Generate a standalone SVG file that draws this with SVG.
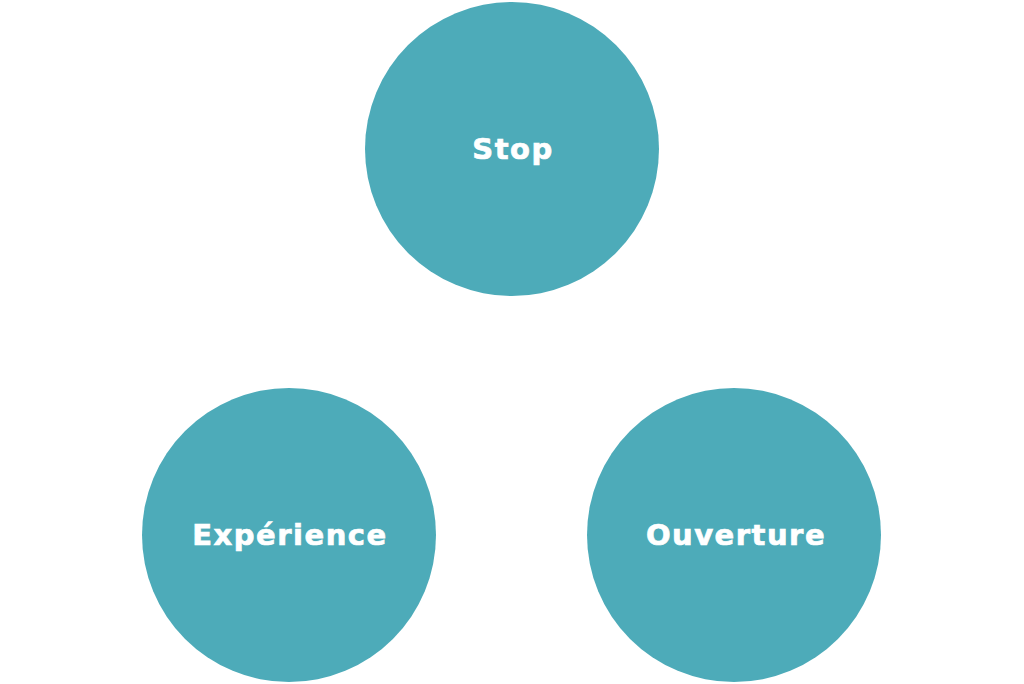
<svg xmlns="http://www.w3.org/2000/svg" width="1024" height="684" viewBox="0 0 1024 684">
<style>
.node{fill:#4DABB9;}
.lbl{fill:#FFFFFF;stroke:#FFFFFF;stroke-width:0.7px;font-family:"DejaVu Sans","Liberation Sans",sans-serif;font-weight:bold;font-size:29px;letter-spacing:1.5px;text-anchor:middle;}
</style>
<rect width="1024" height="684" fill="#FFFFFF"/>
<g id="connectors"></g>
<g id="node-stop">
<circle class="node" cx="512" cy="149" r="147"/>
<text class="lbl" x="513" y="159">Stop</text>
</g>
<g id="node-experience">
<circle class="node" cx="289" cy="535" r="147"/>
<text class="lbl" x="290" y="545">Expérience</text>
</g>
<g id="node-ouverture">
<circle class="node" cx="734" cy="535" r="147"/>
<text class="lbl" x="736" y="545">Ouverture</text>
</g>
</svg>
